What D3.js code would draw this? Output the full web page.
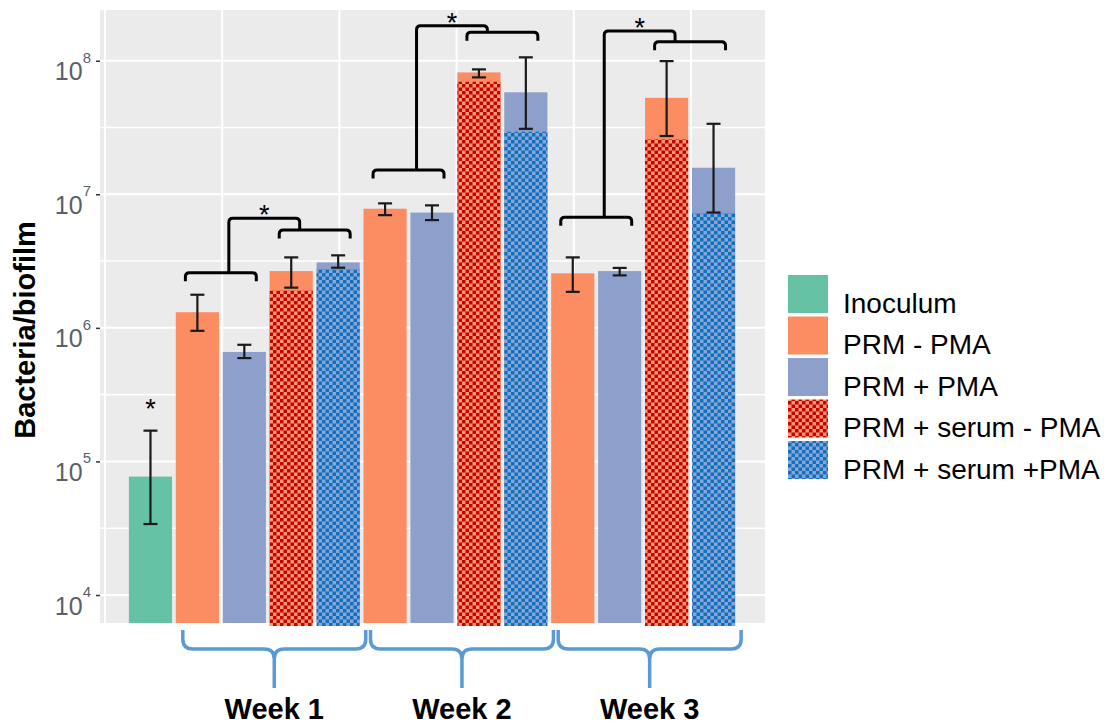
<!DOCTYPE html>
<html>
<head>
<meta charset="utf-8">
<script src="https://cdn.jsdelivr.net/npm/d3@7"></script>
<style>
  body { margin: 0; background: #fff; }
  svg { display: block; font-family: "Liberation Sans", Arial, sans-serif; }
</style>
</head>
<body>
<svg id="chart" width="1116" height="724"></svg>
<script>
// ---- data -------------------------------------------------------------
const treatments = ["Inoculum", "PRM - PMA", "PRM + PMA", "PRM + serum - PMA", "PRM + serum +PMA"];
const weeks = ["Week 1", "Week 2", "Week 3"];

// one entry per bar, left to right
const barTreatment = [0, 1, 2, 3, 4, 1, 2, 3, 4, 1, 2, 3, 4];
const barWeek      = [-1, 0, 0, 0, 0, 1, 1, 1, 1, 2, 2, 2, 2];
// mean bacteria per biofilm
const barMean  = [7.7e4, 1.31e6, 6.6e5, 2.66e6, 3.09e6, 7.8e6, 7.3e6, 8.17e7, 5.8e7, 2.56e6, 2.66e6, 5.27e7, 1.58e7];
// checkered portion (serum groups only)
const barInner = [null, null, null, 1.9e6, 2.74e6, null, null, 6.95e7, 2.94e7, null, null, 2.57e7, 7.2e6];
const errLow   = [3.4e4, 9.5e5, 5.94e5, 2.0e6, 2.82e6, 6.98e6, 6.41e6, 7.5e7, 3.09e7, 1.86e6, 2.47e6, 2.73e7, 7.3e6];
const errHigh  = [1.7e5, 1.77e6, 7.47e5, 3.37e6, 3.49e6, 8.55e6, 8.26e6, 8.61e7, 1.06e8, 3.37e6, 2.81e6, 9.93e7, 3.37e7];

const yTickExponents  = [4, 5, 6, 7, 8];
const yMinorExponents = [4.5, 5.5, 6.5, 7.5];
const xGridSteps = [0, 1, 2, 3, 4, 5];

// significance brackets: pair of bars below, pair of bars above, and levels
const bracketLowerPair = [[1, 2], [5, 6], [9, 10]];
const bracketUpperPair = [[3, 4], [7, 8], [11, 12]];
const bracketLowerY = [2.59e6, 1.52e7, 6.73e6];
const bracketUpperY = [5.41e6, 1.633e8, 1.387e8];
const bracketTopY   = [6.61e6, 1.83e8, 1.667e8];

// ---- layout -------------------------------------------------------------
const panel = { left: 100, right: 765, top: 10, bottom: 623 };
const colors = ["#66C2A5", "#FC8D62", "#8DA0CB", "url(#chkRed)", "url(#chkBlue)"];
const baseColor = ["#66C2A5", "#FC8D62", "#8DA0CB", "#FC8D62", "#8DA0CB"];

const svg = d3.select("#chart");

// checker patterns
const defs = svg.append("defs");
function checker(id, bg, fg, s) {
  const p = defs.append("pattern").attr("id", id).attr("patternUnits", "userSpaceOnUse")
    .attr("width", 2 * s).attr("height", 2 * s);
  p.append("rect").attr("width", 2 * s).attr("height", 2 * s).attr("fill", bg);
  p.append("rect").attr("width", s).attr("height", s).attr("fill", fg);
  p.append("rect").attr("x", s).attr("y", s).attr("width", s).attr("height", s).attr("fill", fg);
}
checker("chkRed", "#F99A72", "#C80000", 3.5);
checker("chkBlue", "#8FA3CF", "#0A72C4", 3.5);

const y = d3.scaleLog()
  .domain([Math.pow(10, 3.7904), Math.pow(10, 8.3796)])
  .range([panel.bottom, panel.top]);

const x = d3.scaleBand()
  .domain(d3.range(barMean.length))
  .range([127.0, 737.0])
  .paddingInner(0.08)
  .paddingOuter(0.04);

const xGrid = d3.scaleLinear().domain([0, 5]).range([105, 691]);

// panel background and grid
svg.append("rect")
  .attr("x", panel.left).attr("y", panel.top)
  .attr("width", panel.right - panel.left).attr("height", panel.bottom - panel.top)
  .attr("fill", "#EBEBEB");

svg.append("g").selectAll("line").data(yMinorExponents).join("line")
  .attr("x1", panel.left).attr("x2", panel.right)
  .attr("y1", d => y(Math.pow(10, d))).attr("y2", d => y(Math.pow(10, d)))
  .attr("stroke", "#fff").attr("stroke-width", 1.6);
svg.append("g").selectAll("line").data(yTickExponents).join("line")
  .attr("x1", panel.left).attr("x2", panel.right)
  .attr("y1", d => y(Math.pow(10, d))).attr("y2", d => y(Math.pow(10, d)))
  .attr("stroke", "#fff").attr("stroke-width", 2);
svg.append("g").selectAll("line").data(xGridSteps).join("line")
  .attr("x1", d => xGrid(d)).attr("x2", d => xGrid(d))
  .attr("y1", panel.top).attr("y2", panel.bottom)
  .attr("stroke", "#fff").attr("stroke-width", 2);

// y axis with 10^k labels
const yAxis = d3.axisLeft(y)
  .tickValues(yTickExponents.map(e => Math.pow(10, e)))
  .tickSize(4)
  .tickFormat("");
const axisG = svg.append("g").attr("transform", `translate(${panel.left},0)`).call(yAxis);
axisG.select(".domain").remove();
axisG.selectAll(".tick line").attr("stroke", "#333").attr("stroke-width", 1.5);
axisG.selectAll(".tick").each(function (d, i) {
  const t = d3.select(this).append("text")
    .attr("x", -9).attr("y", 19)
    .attr("text-anchor", "end")
    .attr("fill", "#5b5f6b")
    .attr("font-size", 25);
  t.append("tspan").text("10");
  t.append("tspan").attr("dy", -17.5).attr("font-size", 15).text(String(yTickExponents[i]));
});

// y axis title
svg.append("text")
  .attr("transform", `translate(35,330) rotate(-90)`)
  .attr("text-anchor", "middle")
  .attr("font-weight", "bold")
  .attr("font-size", 29)
  .attr("fill", "#000")
  .text("Bacteria/biofilm");

// bars
const barIdx = d3.range(barMean.length);
const barsG = svg.append("g");
barsG.selectAll("rect.base").data(barIdx).join("rect")
  .attr("class", "base")
  .attr("x", i => x(i)).attr("width", x.bandwidth())
  .attr("y", i => y(barMean[i]))
  .attr("height", i => panel.bottom - y(barMean[i]))
  .attr("fill", i => barInner[i] === null ? colors[barTreatment[i]] : baseColor[barTreatment[i]]);
barsG.selectAll("rect.inner").data(barIdx.filter(i => barInner[i] !== null)).join("rect")
  .attr("class", "inner")
  .attr("x", i => x(i)).attr("width", x.bandwidth())
  .attr("y", i => y(barInner[i]))
  .attr("height", i => panel.bottom + 3 - y(barInner[i]))
  .attr("fill", i => colors[barTreatment[i]]);

// error bars
const cap = 7;
const errG = svg.append("g").attr("stroke", "#1a1a1a").attr("stroke-width", 2.2);
barIdx.forEach(i => {
  const cx = x(i) + x.bandwidth() / 2;
  errG.append("line").attr("x1", cx).attr("x2", cx).attr("y1", y(errLow[i])).attr("y2", y(errHigh[i]));
  errG.append("line").attr("x1", cx - cap).attr("x2", cx + cap).attr("y1", y(errLow[i])).attr("y2", y(errLow[i]));
  errG.append("line").attr("x1", cx - cap).attr("x2", cx + cap).attr("y1", y(errHigh[i])).attr("y2", y(errHigh[i]));
});

// inoculum significance mark
svg.append("text")
  .attr("x", x(0) + x.bandwidth() / 2).attr("y", y(errHigh[0]) - 13)
  .attr("text-anchor", "middle").attr("font-size", 27).attr("fill", "#000")
  .text("*");

// significance brackets
const bG = svg.append("g").attr("fill", "none").attr("stroke", "#000")
  .attr("stroke-width", 3).attr("stroke-linejoin", "round").attr("stroke-linecap", "butt");
const r = 4, leg = 8.5, span = 12;
function bracketPath(i0, i1, yv) {
  const xl = x(i0) + x.bandwidth() / 2 - span;
  const xr = x(i1) + x.bandwidth() / 2 + span;
  const yy = y(yv);
  return { d: `M${xl},${yy + leg} L${xl},${yy + r} Q${xl},${yy} ${xl + r},${yy} L${xr - r},${yy} Q${xr},${yy} ${xr},${yy + r} L${xr},${yy + leg}`,
           mid: (xl + xr) / 2 };
}
weeks.forEach((w, k) => {
  const lo = bracketPath(bracketLowerPair[k][0], bracketLowerPair[k][1], bracketLowerY[k]);
  const up = bracketPath(bracketUpperPair[k][0], bracketUpperPair[k][1], bracketUpperY[k]);
  bG.append("path").attr("d", lo.d);
  bG.append("path").attr("d", up.d);
  const c0 = lo.mid + 8, c1 = up.mid - 15;
  const yl = y(bracketLowerY[k]), yu = y(bracketUpperY[k]), yt = y(bracketTopY[k]);
  bG.append("path").attr("d",
    `M${c0},${yl} L${c0},${yt + r} Q${c0},${yt} ${c0 + r},${yt} L${c1 - r},${yt} Q${c1},${yt} ${c1},${yt + r} L${c1},${yu}`);
  svg.append("text")
    .attr("x", (c0 + c1) / 2).attr("y", yt + 6)
    .attr("text-anchor", "middle").attr("font-size", 27).attr("fill", "#000")
    .text("*");
});

// week braces and labels
const braceG = svg.append("g").attr("fill", "none").attr("stroke", "#5B9BD5")
  .attr("stroke-width", 3.5).attr("stroke-linejoin", "round");
const braceTop = 630, braceMid = 649, braceTip = 688, br = 10;
weeks.forEach((w, k) => {
  const idx = barIdx.filter(i => barWeek[i] === k);
  const x0 = x(idx[0]) + 7;
  const x1 = x(idx[idx.length - 1]) + x.bandwidth() + 6;
  const xc = (x0 + x1) / 2;
  braceG.append("path").attr("d",
    `M${x0},${braceTop} L${x0},${braceMid - br} Q${x0},${braceMid} ${x0 + br},${braceMid} ` +
    `L${xc - br},${braceMid} Q${xc},${braceMid} ${xc},${braceMid + br} L${xc},${braceTip} ` +
    `M${xc},${braceMid + br} Q${xc},${braceMid} ${xc + br},${braceMid} ` +
    `L${x1 - br},${braceMid} Q${x1},${braceMid} ${x1},${braceMid - br} L${x1},${braceTop}`);
  svg.append("text")
    .attr("x", xc).attr("y", 719)
    .attr("text-anchor", "middle").attr("font-weight", "bold").attr("font-size", 29)
    .attr("fill", "#000")
    .text(w);
});

// legend
const legend = svg.append("g").attr("transform", "translate(788,275)");
treatments.forEach((t, i) => {
  const gy = i * 41.5;
  legend.append("rect").attr("x", 0).attr("y", gy).attr("width", 40).attr("height", 38)
    .attr("fill", colors[i]);
  legend.append("text").attr("x", 55).attr("y", gy + 37.5)
    .attr("font-size", 28).attr("fill", "#000").text(t);
});
</script>
</body>
</html>
